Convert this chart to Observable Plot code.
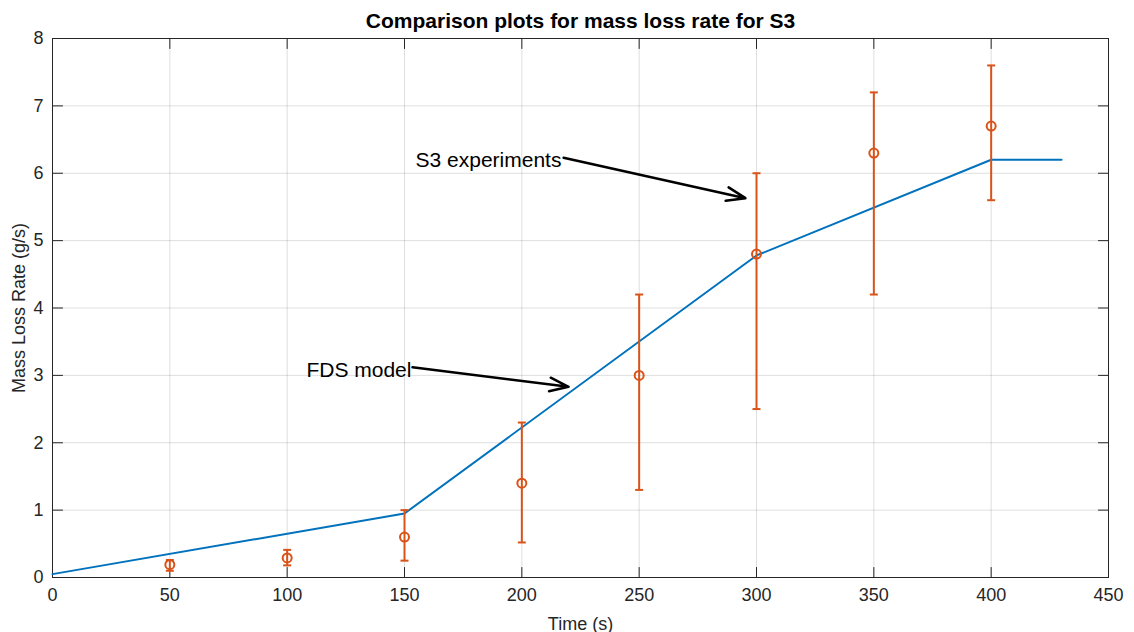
<!DOCTYPE html>
<html>
<head>
<meta charset="utf-8">
<script src="https://cdn.jsdelivr.net/npm/d3@7"></script>
<script src="https://cdn.jsdelivr.net/npm/@observablehq/plot@0.6"></script>
<style>
  html, body { margin: 0; padding: 0; background: #fff; }
  #chart svg { display: block; }
</style>
</head>
<body>
<div id="chart"></div>
<script>
// FDS model curve (time in s, mass loss rate in g/s)
const modelTime = [0, 150, 300, 400, 430];
const modelRate = [0.05, 0.95, 4.78, 6.2, 6.2];

// S3 experiments: mean with lower/upper bounds
const expTime = [50, 100, 150, 200, 250, 300, 350, 400];
const expMean = [0.19, 0.29, 0.6, 1.4, 3.0, 4.8, 6.3, 6.7];
const expLow  = [0.10, 0.18, 0.25, 0.52, 1.3, 2.5, 4.2, 5.6];
const expHigh = [0.26, 0.41, 1.0, 2.3, 4.2, 6.0, 7.2, 7.6];

// Tick values
const xTicks = [0, 50, 100, 150, 200, 250, 300, 350, 400, 450];
const yTicks = [0, 1, 2, 3, 4, 5, 6, 7, 8];

// Annotation labels and their arrows
const noteText = ["S3 experiments", "FDS model"];
const noteX = [154.7, 108.2];
const noteY = [6.10, 2.98];
const arrowX1 = [217.8, 153.4];
const arrowY1 = [6.23, 3.12];
const arrowX2 = [295.3, 219.9];
const arrowY2 = [5.63, 2.83];

const model = modelTime.map((t, i) => ({t, v: modelRate[i]}));
const exp = expTime.map((t, i) => ({t, v: expMean[i], lo: expLow[i], hi: expHigh[i]}));
const notes = noteText.map((s, i) => ({s, x: noteX[i], y: noteY[i], x1: arrowX1[i], y1: arrowY1[i], x2: arrowX2[i], y2: arrowY2[i]}));

const ink = "#262626";
const orange = "#D95319";
const blue = "#0072BD";

// short horizontal cap for the error bars
const capSymbol = {draw(ctx) { ctx.moveTo(-4, 0); ctx.lineTo(4, 0); }};
// inward tick marks drawn as line vectors
const tickShape = {draw(ctx, l) { ctx.moveTo(0, 0); ctx.lineTo(0, -l); }};

const chart = Plot.plot({
  width: 1134,
  height: 632,
  marginLeft: 52,
  marginRight: 26,
  marginTop: 38,
  marginBottom: 55,
  style: {fontFamily: "'Liberation Sans', Arial, Helvetica, sans-serif", fontSize: "18px", color: ink, background: "#fff"},
  x: {domain: [0, 450]},
  y: {domain: [0, 8]},
  marks: [
    Plot.gridX(xTicks, {stroke: ink, strokeOpacity: 0.15, strokeWidth: 1}),
    Plot.gridY(yTicks, {stroke: ink, strokeOpacity: 0.15, strokeWidth: 1}),
    Plot.frame({stroke: ink, strokeWidth: 1}),
    Plot.vector(xTicks, {x: d => d, y: 0, length: 10, rotate: 0, anchor: "start", shape: tickShape, stroke: ink, strokeWidth: 1}),
    Plot.vector(xTicks, {x: d => d, y: 8, length: 10, rotate: 180, anchor: "start", shape: tickShape, stroke: ink, strokeWidth: 1}),
    Plot.vector(yTicks, {x: 0, y: d => d, length: 10, rotate: 90, anchor: "start", shape: tickShape, stroke: ink, strokeWidth: 1}),
    Plot.vector(yTicks, {x: 450, y: d => d, length: 10, rotate: -90, anchor: "start", shape: tickShape, stroke: ink, strokeWidth: 1}),
    Plot.axisX(xTicks, {anchor: "bottom", tickSize: 0, tickPadding: 11, tickFormat: d3.format("d"), fontSize: 18, fill: ink, label: "Time (s)", labelAnchor: "center", labelArrow: "none", labelOffset: 52}),
    Plot.axisY(yTicks, {anchor: "left", tickSize: 0, tickPadding: 9, tickFormat: d3.format("d"), fontSize: 18, fill: ink, label: "Mass Loss Rate (g/s)", labelAnchor: "center", labelArrow: "none", labelOffset: 40}),
    Plot.line(model, {x: "t", y: "v", stroke: blue, strokeWidth: 2}),
    Plot.ruleX(exp, {x: "t", y1: "lo", y2: "hi", stroke: orange, strokeWidth: 2}),
    Plot.dot(exp, {x: "t", y: "lo", symbol: capSymbol, r: 4, stroke: orange, strokeWidth: 2}),
    Plot.dot(exp, {x: "t", y: "hi", symbol: capSymbol, r: 4, stroke: orange, strokeWidth: 2}),
    Plot.dot(exp, {x: "t", y: "v", r: 4.5, stroke: orange, strokeWidth: 2, fill: "none"}),
    Plot.arrow(notes, {x1: "x1", y1: "y1", x2: "x2", y2: "y2", stroke: "#000", strokeWidth: 2.5, headLength: 12, headAngle: 40}),
    Plot.text(notes, {x: "x", y: "y", text: "s", textAnchor: "start", lineAnchor: "bottom", fontSize: 21, fill: "#000"}),
    Plot.text(["Comparison plots for mass loss rate for S3"], {frameAnchor: "top", dy: -11, lineAnchor: "bottom", fontSize: 21, fontWeight: "bold", fill: "#000"})
  ]
});
document.getElementById("chart").appendChild(chart);
</script>
</body>
</html>
